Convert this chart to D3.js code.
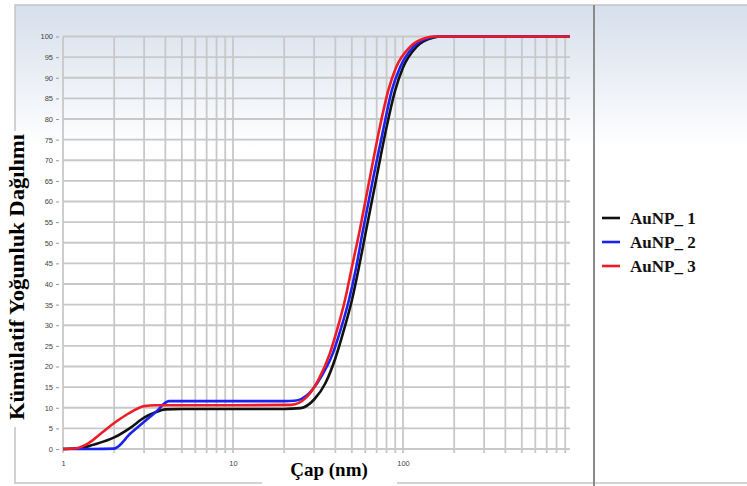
<!DOCTYPE html>
<html>
<head>
<meta charset="utf-8">
<script src="https://cdn.jsdelivr.net/npm/d3@7"></script>
<style>
  body { margin: 0; background: #fff; }
  svg { display: block; }
  .tick text { font-family: "Liberation Sans", Arial, sans-serif; font-size: 7.5px; fill: #444; }
</style>
</head>
<body>
<svg width="747" height="486"></svg>
<script>
// diameters (nm) and cumulative values
const seriesNames = ["AuNP_ 1", "AuNP_ 2", "AuNP_ 3"];
const seriesColors = ["#111111", "#1a22ee", "#ee1c25"];

const aunp1X = [1, 1.3, 1.5, 2, 2.5, 3, 3.5, 4, 5, 10, 20, 25, 30, 35, 40, 45, 50, 55, 60, 70, 80, 90, 100, 120, 150, 170, 960];
const aunp1Y = [0, 0.3, 1, 2.8, 5.2, 7.6, 8.9, 9.6, 9.7, 9.7, 9.7, 9.9, 12, 16, 22, 29, 36, 44, 52, 66, 78, 87, 92.5, 97.5, 99.7, 100, 100];

const aunp2X = [1, 1.5, 2, 2.5, 3, 3.5, 4.2, 5, 10, 20, 23, 28, 33, 38.5, 43, 48, 53, 57.5, 67, 77, 86, 96, 115, 144, 163, 960];
const aunp2Y = [0, 0, 0.1, 3.8, 6.6, 8.9, 11.6, 11.6, 11.6, 11.6, 11.7, 13.5, 17.5, 23, 29, 36, 44, 52, 66, 78, 87, 92.5, 97.5, 99.7, 100, 100];

const aunp3X = [1, 1.2, 1.4, 1.7, 2, 2.3, 2.6, 3, 3.5, 10, 22, 27, 32, 37, 41, 45.5, 50, 55, 64, 73, 82, 91, 110, 137, 155, 960];
const aunp3Y = [0, 0.2, 1.3, 4, 6.3, 8, 9.3, 10.4, 10.6, 10.6, 10.7, 12.5, 17, 23, 29, 36, 44, 52, 66, 78, 87, 92.5, 97.5, 99.7, 100, 100];

const xTickLabels = [1, 10, 100];
const yTickValues = d3.range(0, 101, 5);

const svg = d3.select("svg");
const defs = svg.append("defs");
const grad = defs.append("linearGradient")
  .attr("id", "bg").attr("x1", 0).attr("y1", 0).attr("x2", 0).attr("y2", 1);
grad.append("stop").attr("offset", "0").attr("stop-color", "#d6dfec");
grad.append("stop").attr("offset", "0.3").attr("stop-color", "#ffffff");

// outer frame
svg.append("rect").attr("x", 15).attr("y", 5).attr("width", 740).attr("height", 478)
  .attr("fill", "url(#bg)").attr("stroke", "#c4c4c4").attr("stroke-width", 1.5);
svg.append("line").attr("x1", 594).attr("x2", 594).attr("y1", 5).attr("y2", 486)
  .attr("stroke", "#8a8a8a").attr("stroke-width", 2);

const x = d3.scaleLog().domain([1, 960]).range([63, 570]);
const y = d3.scaleLinear().domain([0, 100]).range([449, 36.5]);

// grid
const xGrid = [];
[1, 10, 100].forEach(d => d3.range(1, 10).forEach(k => xGrid.push(d * k)));
const grid = svg.append("g");
grid.selectAll("line.v").data(xGrid).join("line").attr("class", "v")
  .attr("x1", d => x(d)).attr("x2", d => x(d))
  .attr("y1", y(100)).attr("y2", y(0) + 4)
  .attr("stroke", "#c8c8c8").attr("stroke-width", 1.8);
grid.selectAll("line.h").data(yTickValues).join("line").attr("class", "h")
  .attr("x1", x(1)).attr("x2", 570)
  .attr("y1", d => y(d)).attr("y2", d => y(d))
  .attr("stroke", "#c8c8c8").attr("stroke-width", 1.8);

// axes
const yAxis = svg.append("g").attr("transform", "translate(59,0)")
  .call(d3.axisLeft(y).tickValues(yTickValues).tickSize(3).tickPadding(3));
yAxis.select(".domain").remove();
yAxis.selectAll(".tick line").attr("stroke", "#999");

const xAxis = svg.append("g").attr("transform", `translate(0,${y(0) + 9})`)
  .call(d3.axisBottom(x).tickValues(xTickLabels).tickFormat(d3.format("d")).tickSize(0));
xAxis.select(".domain").remove();

// curves
const line = d3.line().x(d => x(d[0])).y(d => y(d[1])).curve(d3.curveMonotoneX);
const series = [
  d3.zip(aunp1X, aunp1Y),
  d3.zip(aunp2X, aunp2Y),
  d3.zip(aunp3X, aunp3Y)
];
svg.append("g").selectAll("path").data(series).join("path")
  .attr("d", line)
  .attr("fill", "none")
  .attr("stroke", (d, i) => seriesColors[i])
  .attr("stroke-width", 2.6)
  .attr("stroke-linejoin", "round");

// axis titles on white boxes
svg.append("rect").attr("x", 6).attr("y", 131).attr("width", 24).attr("height", 296).attr("fill", "#fff");
svg.append("text")
  .attr("transform", "translate(24,277) rotate(-90)")
  .attr("text-anchor", "middle")
  .attr("font-family", "'Liberation Serif', 'Times New Roman', serif")
  .attr("font-weight", "bold").attr("font-size", 21)
  .attr("textLength", 286).attr("lengthAdjust", "spacingAndGlyphs")
  .text("Kümülatif  Yoğunluk Dağılımı");

svg.append("rect").attr("x", 262).attr("y", 456).attr("width", 135).attr("height", 30).attr("fill", "#fff");
svg.append("text")
  .attr("x", 329).attr("y", 476)
  .attr("text-anchor", "middle")
  .attr("font-family", "'Liberation Serif', 'Times New Roman', serif")
  .attr("font-weight", "bold").attr("font-size", 19)
  .text("Çap (nm)");

// legend
const legend = svg.append("g").selectAll("g").data(seriesNames).join("g")
  .attr("transform", (d, i) => `translate(602,${218 + i * 24})`);
legend.append("line").attr("x1", 0).attr("x2", 18).attr("y1", 0).attr("y2", 0)
  .attr("stroke", (d, i) => seriesColors[i]).attr("stroke-width", 2.6);
legend.append("text").attr("x", 28).attr("y", 6)
  .attr("font-family", "'Liberation Serif', 'Times New Roman', serif")
  .attr("font-weight", "bold").attr("font-size", 17).attr("fill", "#111")
  .text(d => d);
</script>
</body>
</html>
